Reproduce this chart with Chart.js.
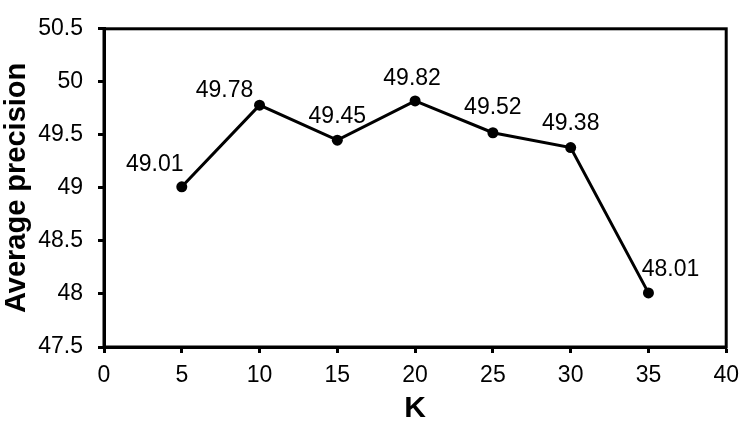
<!DOCTYPE html>
<html>
<head>
<meta charset="utf-8">
<script src="https://cdn.jsdelivr.net/npm/chart.js@4/dist/chart.umd.min.js"></script>
<style>
  html, body { margin: 0; padding: 0; background: #fff; }
  #wrap { width: 748px; height: 427px; }
</style>
</head>
<body>
<div id="wrap"><canvas id="chart" width="748" height="427"></canvas></div>
<script>
// values
const kValues = [5, 10, 15, 20, 25, 30, 35];
const precision = [49.01, 49.78, 49.45, 49.82, 49.52, 49.38, 48.01];
const xTicks = [0, 5, 10, 15, 20, 25, 30, 35, 40];
const yTicks = [47.5, 48, 48.5, 49, 49.5, 50, 50.5];

// where each value label sits relative to its point (px)
const labelOffsets = [[-27, -22], [-35, -15], [0, -24], [-3, -22], [0, -25], [0, -24], [22, -23]];

const FONT = '"Liberation Sans", Arial, sans-serif';

// box around the plot area
const frame = {
  id: 'frame',
  beforeDatasetsDraw(chart) {
    const a = chart.chartArea, ctx = chart.ctx;
    ctx.save();
    ctx.strokeStyle = '#000';
    ctx.lineWidth = 3;
    ctx.strokeRect(a.left, a.top, a.right - a.left, a.bottom - a.top);
    ctx.restore();
  }
};

// value labels next to the points
const valueLabels = {
  id: 'valueLabels',
  afterDatasetsDraw(chart) {
    const ctx = chart.ctx;
    const meta = chart.getDatasetMeta(0);
    ctx.save();
    ctx.font = '23px ' + FONT;
    ctx.fillStyle = '#000';
    ctx.textAlign = 'center';
    ctx.textBaseline = 'middle';
    meta.data.forEach((pt, i) => {
      const off = labelOffsets[i];
      ctx.fillText(precision[i].toFixed(2), pt.x + off[0], pt.y + off[1]);
    });
    ctx.restore();
  }
};

new Chart(document.getElementById('chart'), {
  type: 'line',
  data: {
    datasets: [{
      data: kValues.map((k, i) => ({ x: k, y: precision[i] })),
      borderColor: '#000',
      backgroundColor: '#000',
      borderWidth: 3,
      pointRadius: 5.5,
      pointBorderWidth: 0,
      tension: 0,
      fill: false,
      clip: false
    }]
  },
  options: {
    responsive: false,
    animation: false,
    layout: { padding: { top: 20, right: 20, left: 0, bottom: 0 } },
    plugins: { legend: { display: false }, tooltip: { enabled: false } },
    scales: {
      x: {
        type: 'linear',
        min: 0, max: 40,
        afterBuildTicks: s => { s.ticks = xTicks.map(v => ({ value: v })); },
        afterFit: s => { s.height = 80; },
        grid: { display: true, drawOnChartArea: false, drawTicks: true, tickLength: 6, tickWidth: 3, tickColor: '#000' },
        border: { display: true, color: '#000', width: 3 },
        ticks: { color: '#000', font: { family: FONT, size: 23 }, padding: 9, maxRotation: 0, callback: v => String(v) },
        title: { display: true, text: 'K', color: '#000', font: { family: FONT, size: 30, weight: 'bold' }, padding: { top: 0, bottom: 0 } }
      },
      y: {
        min: 47.5, max: 50.5,
        afterBuildTicks: s => { s.ticks = yTicks.map(v => ({ value: v })); },
        afterFit: s => { s.width = 104; },
        grid: { display: true, drawOnChartArea: false, drawTicks: true, tickLength: 6, tickWidth: 3, tickColor: '#000' },
        border: { display: true, color: '#000', width: 3 },
        ticks: { color: '#000', font: { family: FONT, size: 23 }, padding: 15, callback: v => String(v) },
        title: { display: true, text: 'Average precision', color: '#000', font: { family: FONT, size: 29, weight: 'bold' }, padding: { top: 0, bottom: 0 } }
      }
    }
  },
  plugins: [frame, valueLabels]
});
</script>
</body>
</html>
